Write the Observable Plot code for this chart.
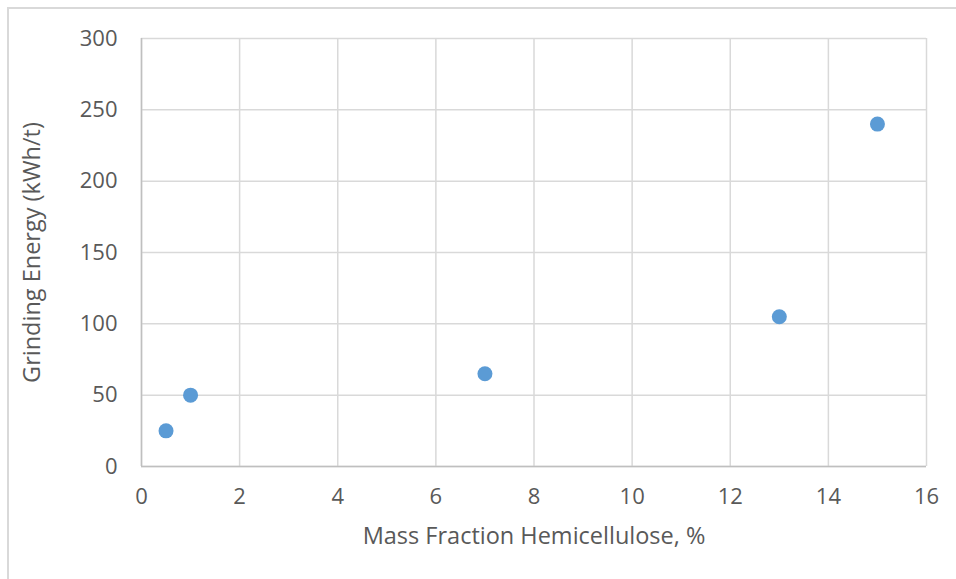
<!DOCTYPE html>
<html>
<head>
<meta charset="utf-8">
<script src="https://cdn.jsdelivr.net/npm/d3@7"></script>
<script src="https://cdn.jsdelivr.net/npm/@observablehq/plot@0.6"></script>
<style>
  html, body { margin: 0; padding: 0; background: #fff; }
  #wrap { position: relative; width: 956px; height: 579px; overflow: hidden; }
  #border { position: absolute; left: 7px; top: 7px; width: 960px; height: 580px; border-left: 2px solid #d9d9d9; border-top: 2px solid #d9d9d9; box-sizing: border-box; }
  #chart { position: absolute; left: 0; top: 0; }
</style>
</head>
<body>
<div id="wrap"><div id="border"></div><div id="chart"></div></div>
<script>
const hemicellulose = [0.5, 1, 7, 13, 15];
const grindingEnergy = [25, 50, 65, 105, 240];
const xTicks = [0, 2, 4, 6, 8, 10, 12, 14, 16];
const yTicks = [0, 50, 100, 150, 200, 250, 300];
const xLabel = "Mass Fraction Hemicellulose, %";
const yLabel = "Grinding Energy (kWh/t)";

const data = hemicellulose.map((x, i) => ({x, y: grindingEnergy[i]}));

const chart = Plot.plot({
  width: 956,
  height: 579,
  marginLeft: 141,
  marginRight: 30,
  marginTop: 38,
  marginBottom: 113,
  style: {fontFamily: "'Open Sans', Lato, sans-serif", background: "transparent", color: "#595959"},
  x: {domain: [0, 16]},
  y: {domain: [0, 300]},
  marks: [
    Plot.gridX(xTicks, {stroke: "#d9d9d9", strokeOpacity: 1, strokeWidth: 1.5}),
    Plot.gridY(yTicks, {stroke: "#d9d9d9", strokeOpacity: 1, strokeWidth: 1.5}),
    Plot.ruleX([0], {stroke: "#bfbfbf", strokeWidth: 1.5}),
    Plot.ruleY([0], {stroke: "#bfbfbf", strokeWidth: 1.5}),
    Plot.axisX(xTicks, {tickSize: 0, tickPadding: 22, fontSize: 22, fill: "#595959",
      label: xLabel, labelAnchor: "center", labelArrow: "none", labelOffset: 77}),
    Plot.axisY(yTicks, {tickSize: 0, tickPadding: 24, fontSize: 22, fill: "#595959",
      label: yLabel, labelAnchor: "center", labelArrow: "none", labelOffset: 118}),
    Plot.dot(data, {x: "x", y: "y", r: 7.5, fill: "#5b9bd5", stroke: "none"})
  ]
});
chart.querySelectorAll("[aria-label='x-axis label'], [aria-label='y-axis label']").forEach(g => {
  g.setAttribute("font-size", 23.5);
  g.querySelectorAll("text").forEach(t => t.setAttribute("font-size", 23.5));
});
document.getElementById("chart").appendChild(chart);
</script>
</body>
</html>
